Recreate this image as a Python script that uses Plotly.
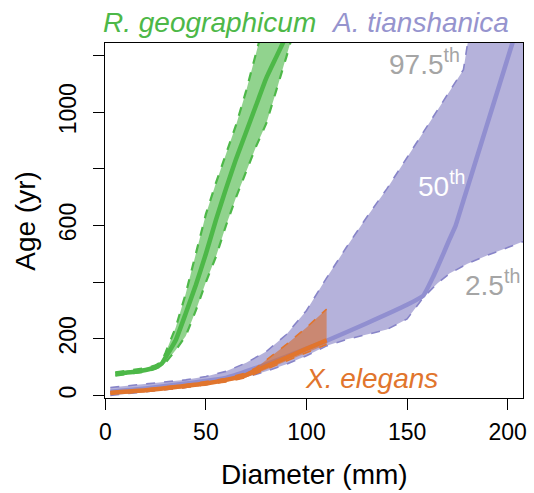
import plotly.graph_objects as go

# ---------------- data ----------------
# R. geographicum (green)
green_x = [5, 10, 15, 20, 25, 28, 30, 35, 40, 45, 50, 55, 60, 65, 70, 75, 80, 85, 90]
green_mid = [76, 80, 84, 90, 100, 112, 135, 195, 290, 390, 500, 620, 730, 835, 930, 1025, 1120, 1195, 1270]
green_up_x = [5, 10, 15, 20, 25, 28, 30, 35, 40, 45, 50, 55, 60, 65, 70, 75, 80, 85]
green_up = [82, 86, 90, 96, 106, 120, 152, 240, 360, 500, 640, 750, 855, 955, 1075, 1215, 1350, 1480]
green_lo_x = [5, 10, 15, 20, 25, 28, 30, 35, 40, 45, 50, 55, 60, 65, 70, 75, 80, 85, 90, 95]
green_lo = [70, 74, 78, 84, 94, 104, 116, 160, 210, 300, 400, 490, 600, 700, 790, 880, 960, 1075, 1195, 1320]

# A. tianshanica (purple)
purple_x = [2.5, 20, 40, 60, 80, 100, 110, 130, 150, 158, 163, 168, 171, 174, 178, 183, 189, 196, 202, 206]
purple_mid = [13, 25, 42, 62, 110, 165, 193, 255, 320, 352, 420, 500, 550, 597, 688, 802, 939, 1099, 1236, 1330]
purple_up_x = [2.5, 20, 40, 50, 60, 70, 80, 90, 100, 110, 120, 130, 140, 150, 160, 170, 178, 180, 185, 195, 210]
purple_up = [28, 40, 55, 67, 85, 115, 155, 215, 300, 415, 525, 630, 730, 840, 950, 1060, 1150, 1240, 1400, 1700, 2100]
purple_lo_x = [2.5, 20, 40, 50, 60, 70, 80, 90, 100, 110, 120, 130, 140, 150, 158, 165, 171, 180, 190, 200, 210]
purple_lo = [0, 12, 28, 38, 50, 65, 85, 110, 140, 175, 198, 215, 233, 270, 345, 395, 430, 465, 495, 522, 550]

# X. elegans (orange)
orange_x = [2.5, 20, 35, 50, 60, 70, 76, 80, 90, 100, 110]
orange_mid = [9, 18, 30, 42, 55, 72, 91, 103, 133, 165, 195]
orange_up_x = [2.5, 20, 40, 60, 70, 75, 80, 90, 100, 110]
orange_up = [13, 22, 38, 60, 80, 98, 125, 180, 240, 305]
orange_lo_x = [2.5, 20, 40, 60, 70, 80, 90, 100, 110]
orange_lo = [6, 14, 28, 48, 63, 92, 120, 150, 180]

x_ticks = [0, 50, 100, 150, 200]
y_labeled_ticks = [0, 200, 600, 1000]
y_unlabeled_ticks = [400, 800, 1200]

# ---------------- styling ----------------
W, H = 534, 493
ML, MR, MT, MB = 105, 7, 43, 95
FONT = "Liberation Sans, Arial, Helvetica, sans-serif"

GREEN = "rgb(77,184,72)"
GREEN_FILL = "rgba(77,184,72,0.62)"
PURPLE_LINE = "rgb(145,143,208)"
PURPLE_FILL = "rgba(120,115,190,0.55)"
PURPLE_DASH = "rgb(135,132,200)"
PURPLE_TXT = "rgb(150,148,206)"
ORANGE = "rgb(225,117,45)"
ORANGE_FILL = "rgba(215,110,50,0.62)"
GRAY = "rgb(165,165,165)"


def paper(px, py):
    return (px - ML) / (W - ML - MR), (H - MB - py) / (H - MT - MB)


fig = go.Figure()


def band(ux, uy, lx, ly, fill, dash_color, dash_w=1.6):
    fig.add_trace(go.Scatter(x=ux + lx[::-1], y=uy + ly[::-1], fill="toself",
                             fillcolor=fill, line=dict(width=0), mode="lines",
                             hoverinfo="skip"))
    for xx, yy in ((ux, uy), (lx, ly)):
        fig.add_trace(go.Scatter(x=xx, y=yy, mode="lines",
                                 line=dict(color=dash_color, width=dash_w, dash="dash"),
                                 hoverinfo="skip"))


band(purple_up_x, purple_up, purple_lo_x, purple_lo, PURPLE_FILL, PURPLE_DASH)
fig.add_trace(go.Scatter(x=purple_x, y=purple_mid, mode="lines",
                         line=dict(color=PURPLE_LINE, width=4.5, shape="spline", smoothing=0.4)))

band(orange_up_x, orange_up, orange_lo_x, orange_lo, ORANGE_FILL, ORANGE)
fig.add_trace(go.Scatter(x=orange_x, y=orange_mid, mode="lines",
                         line=dict(color=ORANGE, width=4.5, shape="spline", smoothing=0.4)))

band(green_up_x, green_up, green_lo_x, green_lo, GREEN_FILL, GREEN, dash_w=2.2)
fig.add_trace(go.Scatter(x=green_x, y=green_mid, mode="lines",
                         line=dict(color=GREEN, width=4.5, shape="spline", smoothing=0.4)))

annotations = []


def label(text, px, py, color, size=28, angle=0):
    x, y = paper(px, py)
    annotations.append(dict(text=text, x=x, y=y, xref="paper", yref="paper",
                            xanchor="center", yanchor="middle", showarrow=False,
                            textangle=angle,
                            font=dict(family=FONT, size=size, color=color)))


label("<i>R. geographicum</i>", 210, 22, GREEN)
label("<i>A. tianshanica</i>", 423, 22, PURPLE_TXT)
label("97.5<sup>th</sup>", 428, 62, GRAY)
label("50<sup>th</sup>", 445, 184, "white")
label("2.5<sup>th</sup>", 496, 283, GRAY)
label("<i>X. elegans</i>", 374, 378, ORANGE)
label("Diameter (mm)", 316, 474, "black")
label("Age (yr)", 24, 221, "black", angle=-90)

axis_common = dict(showline=True, linecolor="black", linewidth=1, mirror=True,
                   showgrid=False, zeroline=False, ticks="outside", ticklen=11,
                   tickwidth=1, tickcolor="black",
                   tickfont=dict(family=FONT, size=23, color="black"))

fig.update_layout(
    width=W, height=H,
    margin=dict(l=ML, r=MR, t=MT, b=MB),
    plot_bgcolor="white", paper_bgcolor="white",
    showlegend=False,
    font=dict(family=FONT),
    annotations=annotations,
    xaxis=dict(range=[-0.15, 207.6], tickvals=x_ticks, ticklabelstandoff=2, **axis_common),
    yaxis=dict(range=[-9, 1244], tickvals=y_labeled_ticks,
               minor=dict(tickvals=y_unlabeled_ticks, ticks="outside", ticklen=11,
                          tickwidth=1, tickcolor="black", showgrid=False),
               tickangle=-90, ticklabelstandoff=8, **axis_common),
)

fig.write_html("out.html")
